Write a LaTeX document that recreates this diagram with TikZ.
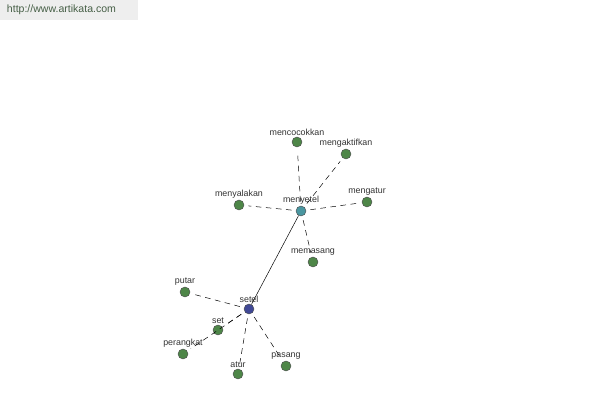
\documentclass[tikz,border=0pt]{standalone}
\usepackage{fontspec}
\setsansfont{Liberation Sans}
\usetikzlibrary{positioning}
\tikzstyle{canvas} = [x = 0.025cm, y = -0.025cm]
\definecolor{wordGreen}{RGB}{78,134,72}
\definecolor{rootTeal}{RGB}{74,150,160}
\definecolor{baseBlue}{RGB}{64,72,150}
\definecolor{siteText}{RGB}{70,95,70}
\definecolor{siteBox}{RGB}{238,238,238}
\tikzstyle{wordNode} = [circle, draw=black!70, fill=wordGreen, minimum size = 10*0.025cm, inner sep = 0pt, line width = .3pt]
\tikzstyle{wordText} = [font=\sffamily\fontsize{6.3}{7}\selectfont, text=black!80, inner sep = 1pt]
\tikzstyle{relLine} = [dash pattern = on 4pt off 3.2pt, line width = .35pt, color=black]
\tikzstyle{mainLine} = [line width = .35pt, color=black]
\newcommand{\wordNode}[5]{\node [wordNode, fill=#5, label={[wordText, label distance=0pt]above:#4}] (#1) at (#2, #3) {};}
\begin{document}
\begin{tikzpicture}[canvas]
  \useasboundingbox (0,0) rectangle (600,400);
  % site header
  \fill [siteBox] (0,0) rectangle (138,20);
  \node [font=\sffamily\fontsize{7.5}{9}\selectfont, text=siteText, anchor=west] (site) at (2,10) {http://www.artikata.com};

  % roots
  \wordNode{menyetel}{301}{211}{menyetel}{rootTeal}
  \wordNode{setel}{249}{309}{setel}{baseBlue}

  % related words
  \wordNode{mencocokkan}{297}{142}{mencocokkan}{wordGreen}
  \wordNode{mengaktifkan}{346}{154}{mengaktifkan}{wordGreen}
  \wordNode{mengatur}{367}{202}{mengatur}{wordGreen}
  \wordNode{menyalakan}{239}{205}{menyalakan}{wordGreen}
  \wordNode{memasang}{313}{262}{memasang}{wordGreen}
  \wordNode{putar}{185}{292}{putar}{wordGreen}
  \wordNode{set}{218}{330}{set}{wordGreen}
  \wordNode{perangkat}{183}{354}{perangkat}{wordGreen}
  \wordNode{atur}{238}{374}{atur}{wordGreen}
  \wordNode{pasang}{286}{366}{pasang}{wordGreen}

  \foreach \w in {mencocokkan, mengaktifkan, mengatur, menyalakan, memasang} {
    \draw [relLine, shorten <= 3pt, shorten >= 3pt] (menyetel) -- (\w);
  }
  \foreach \w in {putar, set, perangkat, atur, pasang} {
    \draw [relLine, shorten <= 3pt, shorten >= 3pt] (setel) -- (\w);
  }
  \draw [mainLine] (setel) -- (menyetel);
\end{tikzpicture}
\end{document}
